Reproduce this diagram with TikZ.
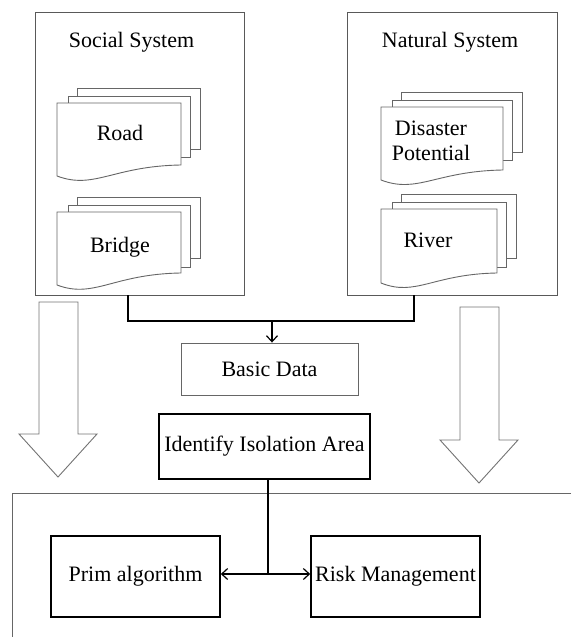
\documentclass[tikz,border=0pt]{standalone}
\usepackage{fontspec}
\setmainfont{Liberation Serif}
\usetikzlibrary{arrows.meta}
\begin{document}
\begin{tikzpicture}[x=1pt,y=-1pt,
  every node/.style={font=\fontsize{22}{25}\selectfont, inner sep=0pt},
  sysbox/.style={draw=black!65, line width=0.9pt, rectangle},
  thinbox/.style={draw=black!60, line width=0.9pt, rectangle},
  thickbox/.style={draw=black, line width=1.6pt, rectangle},
  docline/.style={draw=black!60, line width=0.9pt, fill=white},
  conn/.style={draw=black, line width=1.2pt},
  arr/.style={conn, -{Straight Barb[length=6pt,width=11pt,line width=1.2pt]}},
  blockarrow/.style={draw=black!55, line width=0.9pt, fill=white}
]
\useasboundingbox (0,0) rectangle (571,637);

% system boxes
\node[sysbox, minimum width=209pt, minimum height=283pt] (soc) at (139.5,153.5) {};
\node[sysbox, minimum width=210pt, minimum height=283pt] (nat) at (452,153.5) {};
\node (soct) at (131.5,42) {Social System};
\node (natt) at (450,42) {Natural System};

% document stack: #1 l, #2 t, #3 r, #4 bottom-left, #5 bottom-right, #6 middle bottom, #7 back bottom
\newcommand\mydoc[7]{%
  \path[docline] (#1+20,#2-15) rectangle (#3+19,#7);
  \path[docline] (#1+11,#2-7) rectangle (#3+9,#6);
  \path[docline] (#1,#2) -- (#3,#2) -- (#3,#5)
     .. controls (#1+0.45*#3-0.45*#1,#5+1) and (#1+0.3*#3-0.3*#1,#4+14) .. (#1,#4) -- cycle;
}
\mydoc{57}{103}{181}{176}{165}{157}{149}
\mydoc{57}{212}{181}{285}{273}{267}{258}
\mydoc{381}{107}{503}{180}{170}{160}{152}
\mydoc{381}{209}{497}{283}{273}{267}{258}

\node (road) at (120,133) {Road};
\node (bridge) at (120,247) {Bridge};
\node[align=center] (dis) at (431,141) {Disaster\\Potential};
\node (river) at (428,240) {River};

% basic data and identification
\node[thinbox, minimum width=177pt, minimum height=52pt] (basic) at (269.5,369) {Basic Data};
\node[thickbox, minimum width=211pt, minimum height=65pt] (ident) at (264.5,446.5) {Identify Isolation Area};

% connectors from system boxes
\coordinate (j) at (272,321);
\draw[conn] ([xshift=-11.5pt]soc.south) |- (j) -| ([xshift=-38pt]nat.south);
\draw[arr] (j) -- (j |- basic.north);

% big hollow arrows
\draw[blockarrow] (39,302) -- (78,302) -- (78,434) -- (97,434) -- (58,477) -- (19,434) -- (39,434) -- cycle;
\draw[blockarrow] (460,307) -- (499,307) -- (499,440) -- (518,440) -- (479,483) -- (440,440) -- (460,440) -- cycle;

% bottom container
\draw[draw=black!60, line width=0.9pt] (571,493) -- (12,493) -- (12,637);

% bottom boxes
\node[thickbox, minimum width=169pt, minimum height=81pt] (prim) at (135.5,576.5) {Prim algorithm};
\node[thickbox, minimum width=169pt, minimum height=81pt] (risk) at (395.5,576.5) {Risk Management};

\coordinate (k) at (268,574);
\draw[conn] (k |- ident.south) -- (k);
\draw[arr] (k) -- (k -| prim.east);
\draw[arr] (k) -- (k -| risk.west);
\end{tikzpicture}
\end{document}
